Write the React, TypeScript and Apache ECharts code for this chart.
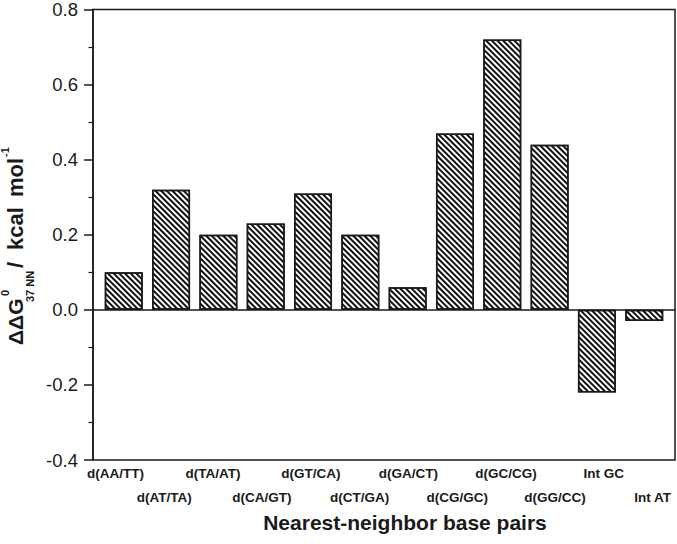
import React, { useEffect, useRef } from "react";
import * as echarts from "echarts";

const categories = [
  "d(AA/TT)", "d(AT/TA)", "d(TA/AT)", "d(CA/GT)", "d(GT/CA)", "d(CT/GA)",
  "d(GA/CT)", "d(CG/GC)", "d(GC/CG)", "d(GG/CC)", "Int GC", "Int AT",
];
const values = [0.10, 0.32, 0.20, 0.23, 0.31, 0.20, 0.06, 0.47, 0.72, 0.44, -0.22, -0.03];
const yMin = -0.4;
const yMax = 0.8;
const yStep = 0.2;
const xTitle = "Nearest-neighbor base pairs";

const FONT = '"Liberation Sans", Arial, sans-serif';
const INK = "#1a1a1a";

function txt(x: number, y: number, text: string, size: number) {
  return {
    type: "text",
    x,
    y,
    style: {
      text,
      font: `bold ${size}px ${FONT}`,
      fill: INK,
      align: "left",
      verticalAlign: "middle",
      textAlign: "left",
      textVerticalAlign: "middle",
    },
  };
}

export default function App() {
  const ref = useRef<HTMLDivElement>(null);
  useEffect(() => {
    if (!ref.current) return;
    const chart = echarts.init(ref.current, null, { renderer: "svg" });
    const option: any = {
      animation: false,
      backgroundColor: "#fff",
      grid: [
        {
          left: 93, top: 7, width: 582, bottom: 84,
          show: true, borderColor: INK, borderWidth: 1.5, backgroundColor: "transparent",
        },
        { left: 91, top: 7, width: 588, bottom: 84, show: false },
      ],
      xAxis: [
        {
          type: "value", gridIndex: 0, min: -0.65, max: 11.65,
          axisLine: { show: true, onZero: true, lineStyle: { color: INK, width: 1.5 } },
          axisTick: { show: false }, axisLabel: { show: false }, splitLine: { show: false },
        },
        {
          type: "category", gridIndex: 1, data: categories, position: "bottom",
          axisLine: { show: false }, axisTick: { show: false }, splitLine: { show: false },
          axisLabel: {
            interval: 0, margin: 1, lineHeight: 24,
            fontFamily: FONT, fontWeight: "bold", fontSize: 13.5, color: INK,
            formatter: (v: string, i: number) => (i % 2 === 1 ? "\n" + v : v),
          },
        },
      ],
      yAxis: [
        {
          type: "value", gridIndex: 0, min: yMin, max: yMax, interval: yStep,
          axisLine: { show: true, onZero: false, lineStyle: { color: INK, width: 1.5 } },
          axisTick: { show: true, inside: false, length: 9, lineStyle: { color: INK, width: 1.5 } },
          minorTick: { show: true, splitNumber: 2, length: 4.5, lineStyle: { color: INK, width: 1.2 } },
          splitLine: { show: false },
          axisLabel: {
            margin: 15, fontFamily: FONT, fontSize: 18.5, color: INK,
            formatter: (v: number) => v.toFixed(1),
          },
        },
        { type: "value", gridIndex: 1, show: false },
      ],
      series: [
        {
          type: "bar",
          xAxisIndex: 0,
          yAxisIndex: 0,
          barWidth: 38,
          data: categories.map((_, i) => [i, values[i]]),
          itemStyle: {
            color: "#fff",
            borderColor: INK,
            borderWidth: 1.5,
            decal: {
              symbol: "rect",
              symbolSize: 1,
              color: "#111",
              backgroundColor: "#fff",
              dashArrayX: [1, 0],
              dashArrayY: [1.2, 1.2],
              rotation: Math.PI / 4,
            },
          },
        },
      ],
      graphic: [
        {
          type: "group",
          x: 15,
          y: 345,
          rotation: Math.PI / 2,
          children: [
            txt(0, 0, "ΔΔG", 21),
            txt(49, -10.5, "0", 11),
            txt(43, 14.5, "37 NN", 11),
            txt(77, 0, "/", 22),
            txt(95, 0, "kcal", 22),
            txt(148, 0, "mol", 22),
            txt(188, -10.5, "-1", 11),
          ],
        },
        {
          type: "text",
          x: 405,
          y: 522,
          style: {
            text: xTitle,
            font: `bold 21px ${FONT}`,
            fill: INK,
            align: "center",
            verticalAlign: "middle",
            textAlign: "center",
            textVerticalAlign: "middle",
          },
        },
      ],
    };
    chart.setOption(option);
    return () => chart.dispose();
  }, []);
  return (
    <div
      ref={ref}
      style={{ position: "absolute", left: 0, top: 0, width: 677, height: 544 }}
    />
  );
}
